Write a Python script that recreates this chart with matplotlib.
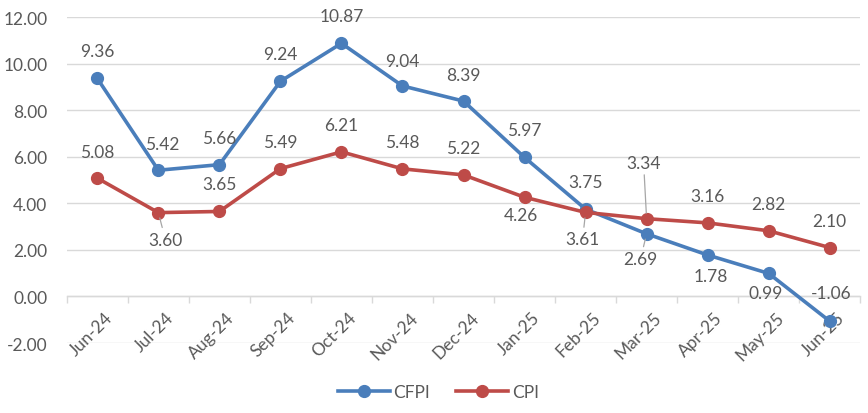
import numpy as np
import matplotlib
matplotlib.use('Agg')
import matplotlib.pyplot as plt
from matplotlib.lines import Line2D

months = ['Jun-24', 'Jul-24', 'Aug-24', 'Sep-24', 'Oct-24', 'Nov-24', 'Dec-24',
          'Jan-25', 'Feb-25', 'Mar-25', 'Apr-25', 'May-25', 'Jun-25']
cfpi = [9.36, 5.42, 5.66, 9.24, 10.87, 9.04, 8.39, 5.97, 3.75, 2.69, 1.78, 0.99, -1.06]
cpi = [5.08, 3.60, 3.65, 5.49, 6.21, 5.48, 5.22, 4.26, 3.61, 3.34, 3.16, 2.82, 2.10]

# label offsets in pixels (dx, dy), and whether a leader line is drawn
cfpi_off = [(0, 27), (4, 26), (0, 27), (0, 27), (0, 27), (0, 25), (0, 26),
            (0, 27), (0, 27), (-6, -25), (3, -21), (-3, -20), (2, 28)]
cpi_off = [(0, 26), (7, -27), (0, 27), (0, 27), (0, 27), (0, 27), (0, 27),
           (-4, -18), (-3, -27), (-3, 56), (0, 27), (0, 27), (0, 27)]
cfpi_lead = [False] * 9 + [True] + [False] * 3
cpi_lead = [False, True] + [False] * 6 + [True, True] + [False] * 3

blue = '#4A7EBB'
red = '#BE4B48'
txt = '#595959'
fs = 12.5
plt.rcParams['font.family'] = ['Lato', 'DejaVu Sans']

fig = plt.figure(figsize=(8.68, 4.14), dpi=100)
ax = fig.add_axes([0.077, 0.169, 0.914, 0.7875])

x = np.arange(len(months))
ax.plot(x, cfpi, color=blue, lw=2.6, marker='o', ms=8.5, label='CFPI', zorder=3)
ax.plot(x, cpi, color=red, lw=2.6, marker='o', ms=8.5, label='CPI', zorder=3)

def put_labels(vals, offs, leads):
    for i, v in enumerate(vals):
        dx, dy = offs[i]
        kw = {}
        if leads[i]:
            kw['arrowprops'] = dict(arrowstyle='-', color='#A6A6A6', lw=0.9,
                                    shrinkA=1, shrinkB=4)
        ax.annotate('%.2f' % v, (i, v), xytext=(dx, dy), textcoords='offset pixels',
                    ha='center', va='center', fontsize=fs, color=txt, zorder=4, **kw)

put_labels(cfpi, cfpi_off, cfpi_lead)
put_labels(cpi, cpi_off, cpi_lead)

ax.set_xlim(-0.5, len(months) - 0.5)
ax.set_ylim(-2, 12)
ax.set_yticks(np.arange(-2, 13, 2))
ax.set_yticklabels(['%.2f' % t for t in np.arange(-2, 13, 2)])
ax.yaxis.grid(True, color='#D9D9D9', lw=1)
ax.set_axisbelow(True)

for s in ['left', 'right', 'top']:
    ax.spines[s].set_visible(False)
ax.spines['bottom'].set_position(('data', 0))
ax.spines['bottom'].set_color('#D9D9D9')
ax.spines['bottom'].set_linewidth(1)

ax.set_xticks(x)
ax.set_xticklabels(months, rotation=45, ha='right', va='top', rotation_mode='anchor')
ax.set_xticks(np.arange(-0.5, len(months)), minor=True)
ax.tick_params(axis='x', which='major', length=0, pad=9, labelsize=fs, labelcolor=txt)
ax.tick_params(axis='x', which='minor', length=5, color='#D9D9D9', width=1)
ax.tick_params(axis='y', length=0, pad=14, labelsize=fs, labelcolor=txt)
for lab in ax.get_xticklabels():
    lab.set_transform(lab.get_transform() + matplotlib.transforms.ScaledTranslation(5/72, 0, fig.dpi_scale_trans))

handles = [Line2D([], [], color=blue, lw=2.6, marker='o', ms=8.5),
           Line2D([], [], color=red, lw=2.6, marker='o', ms=8.5)]
fig.legend(handles, ['CFPI', 'CPI'], loc='center', bbox_to_anchor=(0.505, 0.05),
           ncol=2, frameon=False, fontsize=fs, labelcolor=txt,
           handlelength=3.0, handletextpad=0.2, columnspacing=1.5)

fig.savefig('out.png', dpi=100)
